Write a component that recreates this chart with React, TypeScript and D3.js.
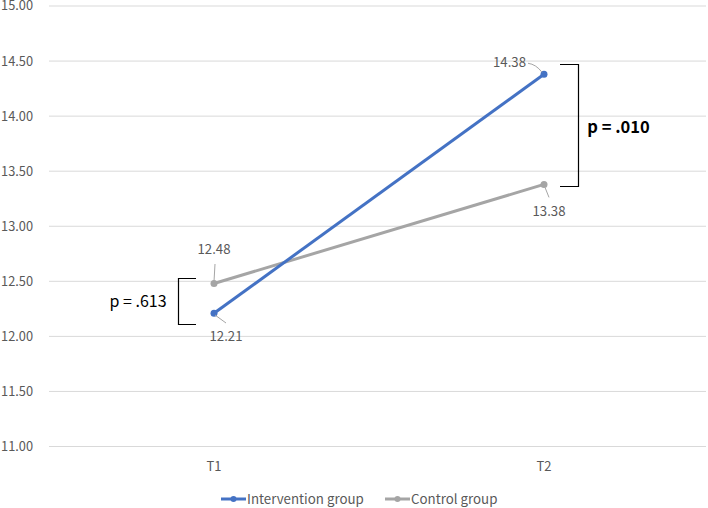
import React from "react";
import * as d3 from "d3";

const categories = ["T1", "T2"];
const interventionValues = [12.21, 14.38];
const controlValues = [12.48, 13.38];
const yTicks = [11, 11.5, 12, 12.5, 13, 13.5, 14, 14.5, 15];
const seriesNames = ["Intervention group", "Control group"];
const pLabels = ["p = .613", "p = .010"];

const W = 708, H = 508;
const FONT = "'Noto Sans CJK JP', 'Noto Sans', sans-serif";
const BLUE = "#4472C4";
const GRAY = "#A5A5A5";
const TXT = "#595959";

export default function App() {
  const x = d3.scaleBand().domain(categories).range([49, 709]);
  const cx = (c: string) => (x(c) as number) + x.bandwidth() / 2;
  const y = d3.scaleLinear().domain([11, 15]).range([446.5, 6]);
  const line = d3.line<number>().x((_, i) => cx(categories[i])).y((v) => y(v));

  const t1 = cx("T1"), t2 = cx("T2");
  return (
    <svg width={W} height={H} style={{ position: "absolute", left: 0, top: 0, fontFamily: FONT }}>
      <rect width={W} height={H} fill="#fff" />
      {yTicks.map((t) => (
        <g key={t}>
          <line x1={49} x2={706} y1={y(t)} y2={y(t)} stroke="#D9D9D9" strokeWidth={1} />
          <text x={33} y={y(t)} dy="0.35em" textAnchor="end" fontSize={12.8} fill={TXT}>
            {t.toFixed(2)}
          </text>
        </g>
      ))}
      {categories.map((c) => (
        <text key={c} x={cx(c)} y={466} dy="0.35em" textAnchor="middle" fontSize={13} fill={TXT}>
          {c}
        </text>
      ))}
      <path d={line(controlValues) as string} fill="none" stroke={GRAY} strokeWidth={3} />
      <path d={line(interventionValues) as string} fill="none" stroke={BLUE} strokeWidth={3} />
      {controlValues.map((v, i) => (
        <circle key={"c" + i} cx={cx(categories[i])} cy={y(v)} r={3.5} fill={GRAY} />
      ))}
      {interventionValues.map((v, i) => (
        <circle key={"b" + i} cx={cx(categories[i])} cy={y(v)} r={3.5} fill={BLUE} />
      ))}
      {/* data labels with leader lines */}
      <line x1={t1 + 1} y1={264} x2={t1} y2={y(controlValues[0]) - 2} stroke={GRAY} strokeWidth={1} />
      <text x={t1} y={249} dy="0.35em" textAnchor="middle" fontSize={13.2} fill={TXT}>
        {controlValues[0].toFixed(2)}
      </text>
      <line x1={t1 + 1} y1={315} x2={t1 + 12} y2={323} stroke={GRAY} strokeWidth={1} />
      <text x={t1 + 12} y={336} dy="0.35em" textAnchor="middle" fontSize={13.2} fill={TXT}>
        {interventionValues[0].toFixed(2)}
      </text>
      <path d={`M${t2 - 16},${y(interventionValues[1]) - 11} Q${t2 - 8},${y(interventionValues[1]) - 10} ${t2 - 2},${y(interventionValues[1]) - 2}`} fill="none" stroke={GRAY} strokeWidth={1} />
      <text x={t2 - 18} y={62} dy="0.35em" textAnchor="end" fontSize={13.2} fill={TXT}>
        {interventionValues[1].toFixed(2)}
      </text>
      <line x1={t2 + 1} y1={y(controlValues[1]) + 3} x2={t2 + 5} y2={y(controlValues[1]) + 13} stroke={GRAY} strokeWidth={1} />
      <text x={t2 + 5} y={211} dy="0.35em" textAnchor="middle" fontSize={13.2} fill={TXT}>
        {controlValues[1].toFixed(2)}
      </text>
      {/* brackets */}
      <path d={`M${t1 - 18},278.5 H178.5 V324.5 H${t1 - 18}`} fill="none" stroke="#000" strokeWidth={1.2} />
      <text x={138} y={301} dy="0.35em" textAnchor="middle" fontSize={16} fill="#000">
        {pLabels[0]}
      </text>
      <path d={`M${t2 + 16},64.5 H578.5 V186.5 H${t2 + 16}`} fill="none" stroke="#000" strokeWidth={1.2} />
      <text x={618.5} y={127} dy="0.35em" textAnchor="middle" fontSize={16.5} fontWeight="bold" fill="#000">
        {pLabels[1]}
      </text>
      {/* legend */}
      {[{ x0: 221, c: BLUE }, { x0: 385, c: GRAY }].map((l, i) => (
        <g key={i}>
          <line x1={l.x0} x2={l.x0 + 25} y1={499} y2={499} stroke={l.c} strokeWidth={3} />
          <circle cx={l.x0 + 12.5} cy={499} r={3} fill={l.c} />
          <text x={l.x0 + 26} y={499} dy="0.35em" fontSize={13.3} fill={TXT}>
            {seriesNames[i]}
          </text>
        </g>
      ))}
    </svg>
  );
}
